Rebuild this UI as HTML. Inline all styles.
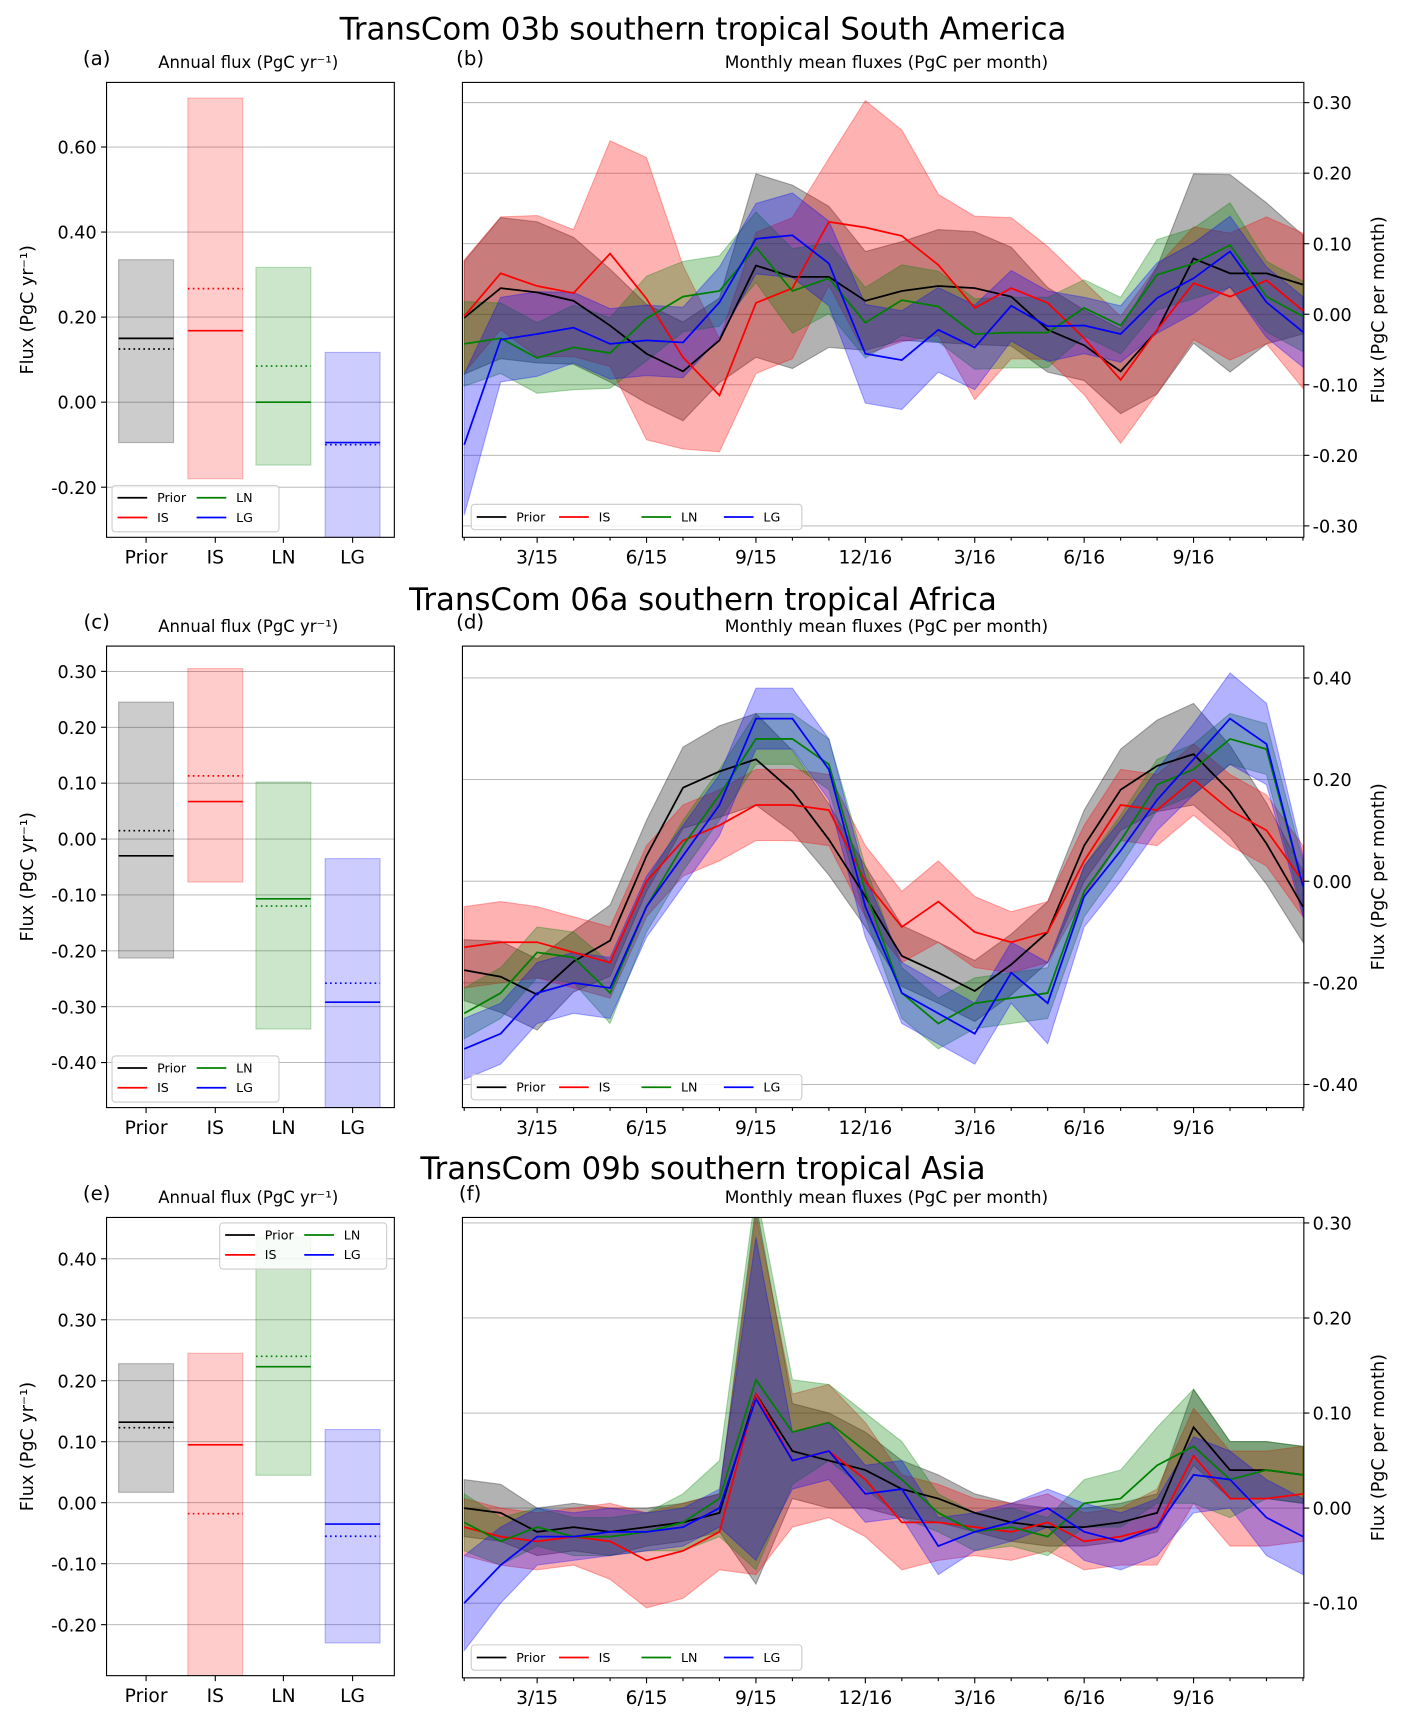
<!DOCTYPE html>
<html><head><meta charset="utf-8"><style>
html,body{margin:0;padding:0;background:#fff}
svg{display:block;font-family:"DejaVu Sans","Liberation Sans",sans-serif}
</style></head><body>
<svg id="fig" width="1406" height="1724" viewBox="0 0 1280 1569" preserveAspectRatio="none" xmlns="http://www.w3.org/2000/svg"></svg>
<script>
const months = ["1/15","2/15","3/15","4/15","5/15","6/15","7/15","8/15","9/15","10/15","11/15","12/15","1/16","2/16","3/16","4/16","5/16","6/16","7/16","8/16","9/16","10/16","11/16","12/16"];
const xTickLabels = ["3/15","6/15","9/15","12/16","3/16","6/16","9/16"];
const xTickIdx = [2,5,8,11,14,17,20];
const seriesNames = ["Prior","IS","LN","LG"];

// Panel b (South America)
const bPrior = [-0.005,0.037,0.031,0.019,-0.016,-0.056,-0.081,-0.037,0.069,0.053,0.053,0.019,0.033,0.040,0.037,0.025,-0.022,-0.044,-0.081,-0.023,0.079,0.058,0.058,0.042];
const bIS = [-0.003,0.058,0.04,0.03,0.086,0.022,-0.061,-0.115,0.016,0.037,0.131,0.123,0.111,0.070,0.009,0.037,0.016,-0.034,-0.093,-0.022,0.044,0.025,0.048,0.005];
const bLN = [-0.042,-0.034,-0.062,-0.047,-0.055,-0.006,0.025,0.033,0.095,0.033,0.051,-0.012,0.02,0.011,-0.028,-0.026,-0.026,0.009,-0.016,0.056,0.072,0.098,0.025,-0.003];
const bLG = [-0.185,-0.036,-0.028,-0.019,-0.042,-0.037,-0.04,0.017,0.107,0.112,0.072,-0.056,-0.065,-0.022,-0.047,0.012,-0.017,-0.016,-0.028,0.023,0.051,0.089,0.017,-0.025];
const bPriorSpread = [0.08,0.10,0.10,0.09,0.08,0.07,0.07,0.06,0.13,0.13,0.10,0.07,0.07,0.08,0.08,0.07,0.06,0.05,0.06,0.09,0.12,0.14,0.10,0.07];
const bISSpread = [0.08,0.08,0.10,0.09,0.16,0.20,0.13,0.08,0.10,0.10,0.09,0.18,0.15,0.10,0.13,0.10,0.08,0.08,0.09,0.09,0.08,0.09,0.09,0.11];
const bLNSpread = [0.06,0.05,0.05,0.06,0.05,0.06,0.05,0.05,0.05,0.06,0.05,0.05,0.05,0.05,0.05,0.05,0.05,0.04,0.04,0.05,0.05,0.06,0.05,0.05];
const bLGSpread = [0.10,0.06,0.06,0.05,0.05,0.05,0.05,0.05,0.05,0.06,0.06,0.07,0.07,0.06,0.06,0.05,0.05,0.04,0.04,0.05,0.05,0.05,0.05,0.05];

// Panel d (Africa)
const dPrior = [-0.175,-0.188,-0.223,-0.158,-0.117,0.05,0.184,0.216,0.24,0.177,0.082,-0.03,-0.147,-0.18,-0.216,-0.164,-0.10,0.07,0.18,0.227,0.25,0.177,0.074,-0.05];
const dIS = [-0.13,-0.12,-0.12,-0.14,-0.16,0.0,0.08,0.11,0.15,0.15,0.14,0.0,-0.09,-0.04,-0.1,-0.12,-0.1,0.04,0.15,0.14,0.2,0.14,0.1,0.0];
const dLN = [-0.26,-0.22,-0.14,-0.15,-0.22,-0.05,0.07,0.17,0.28,0.28,0.23,-0.02,-0.22,-0.28,-0.24,-0.23,-0.22,-0.02,0.08,0.19,0.22,0.28,0.26,-0.01];
const dLG = [-0.33,-0.30,-0.22,-0.20,-0.21,-0.05,0.05,0.15,0.32,0.32,0.22,-0.05,-0.22,-0.26,-0.30,-0.18,-0.24,-0.03,0.06,0.16,0.24,0.32,0.27,-0.01];
const dPriorSpread = [0.06,0.07,0.07,0.06,0.07,0.07,0.08,0.09,0.09,0.08,0.07,0.06,0.06,0.06,0.06,0.06,0.06,0.07,0.08,0.09,0.10,0.09,0.08,0.07];
const dISSpread = [0.08,0.08,0.07,0.07,0.07,0.07,0.07,0.07,0.07,0.07,0.07,0.07,0.07,0.08,0.07,0.06,0.06,0.07,0.07,0.07,0.07,0.07,0.07,0.07];
const dLNSpread = [0.05,0.05,0.05,0.05,0.06,0.05,0.05,0.05,0.05,0.05,0.05,0.05,0.05,0.05,0.05,0.05,0.05,0.05,0.05,0.05,0.05,0.05,0.05,0.05];
const dLGSpread = [0.06,0.06,0.06,0.06,0.06,0.06,0.06,0.06,0.06,0.06,0.06,0.06,0.06,0.06,0.06,0.06,0.08,0.06,0.06,0.06,0.07,0.09,0.08,0.06];

// Panel f (Asia)
const fPrior = [0.0,-0.005,-0.025,-0.02,-0.025,-0.02,-0.015,-0.005,0.12,0.06,0.05,0.04,0.02,0.01,-0.005,-0.015,-0.02,-0.02,-0.015,-0.005,0.085,0.04,0.04,0.035];
const fIS = [-0.02,-0.03,-0.035,-0.03,-0.035,-0.055,-0.045,-0.025,0.12,0.05,0.06,0.03,-0.015,-0.015,-0.02,-0.025,-0.015,-0.035,-0.03,-0.02,0.055,0.01,0.01,0.015];
const fLN = [-0.015,-0.035,-0.02,-0.03,-0.03,-0.025,-0.015,0.01,0.135,0.08,0.09,0.06,0.03,-0.005,-0.025,-0.02,-0.03,0.005,0.01,0.045,0.065,0.03,0.04,0.035];
const fLG = [-0.1,-0.06,-0.03,-0.03,-0.025,-0.025,-0.02,0.0,0.115,0.05,0.06,0.015,0.02,-0.04,-0.025,-0.015,0.0,-0.025,-0.035,-0.02,0.035,0.03,-0.01,-0.03];
const fPriorSpread = [0.03,0.03,0.025,0.025,0.025,0.02,0.02,0.02,0.2,0.05,0.05,0.04,0.03,0.025,0.02,0.02,0.02,0.02,0.02,0.02,0.04,0.03,0.03,0.03];
const fISSpread = [0.03,0.03,0.03,0.03,0.04,0.05,0.05,0.04,0.19,0.07,0.07,0.06,0.05,0.04,0.03,0.03,0.03,0.03,0.03,0.04,0.05,0.05,0.05,0.05];
const fLNSpread = [0.03,0.025,0.02,0.02,0.02,0.02,0.03,0.04,0.2,0.055,0.04,0.04,0.04,0.02,0.02,0.02,0.02,0.025,0.03,0.04,0.06,0.04,0.03,0.03];
const fLGSpread = [0.05,0.04,0.03,0.025,0.025,0.02,0.02,0.02,0.17,0.03,0.03,0.03,0.03,0.03,0.02,0.02,0.02,0.03,0.03,0.03,0.04,0.03,0.04,0.04];

// Annual panels: lower, upper, solid, dotted per series (Prior, IS, LN, LG)
const aLower = [-0.095,-0.18,-0.148,-0.5];
const aUpper = [0.335,0.715,0.317,0.117];
const aSolid = [0.15,0.168,0.0,-0.095];
const aDotted = [0.125,0.267,0.085,-0.10];
const cLower = [-0.213,-0.077,-0.34,-0.6];
const cUpper = [0.245,0.305,0.102,-0.035];
const cSolid = [-0.03,0.067,-0.107,-0.292];
const cDotted = [0.015,0.113,-0.12,-0.258];
const eLower = [0.017,-0.5,0.045,-0.23];
const eUpper = [0.228,0.245,0.435,0.12];
const eSolid = [0.132,0.095,0.223,-0.035];
const eDotted = [0.123,-0.018,0.24,-0.055];

const aTicks = [0.6,0.4,0.2,0.0,-0.2];
const cTicks = [0.3,0.2,0.1,0.0,-0.1,-0.2,-0.3,-0.4];
const eTicks = [0.4,0.3,0.2,0.1,0.0,-0.1,-0.2];
const bTicks = [0.3,0.2,0.1,0.0,-0.1,-0.2,-0.3];
const dTicks = [0.4,0.2,0.0,-0.2,-0.4];
const fTicks = [0.3,0.2,0.1,0.0,-0.1];

const colors = ["#000000","#ff0000","#008000","#0000ff"];
const svg = document.getElementById('fig');
const NS = "http://www.w3.org/2000/svg";
function mk(tag, attrs, parent){const e=document.createElementNS(NS,tag);for(const k in attrs)e.setAttribute(k,attrs[k]);(parent||svg).appendChild(e);return e;}
function txt(s, x, y, size, anchor, parent, extra){const t=mk('text',Object.assign({x:x,y:y,'font-size':size,'text-anchor':anchor||'start',fill:'#000'},extra||{}),parent);t.textContent=s;return t;}
function fmt(v){return (v<0?"-":"")+Math.abs(v).toFixed(2);}

function legend(g, x, y, w, h, twoRow){
  const lg=mk('g',{},g);
  
  
  mk('rect',{x:x,y:y,width:w,height:h,rx:3,fill:'#fff','fill-opacity':0.85,stroke:'#ccc'},lg);
  seriesNames.forEach((n,i)=>{
    const e=mk('g',{},lg);
    
    
    let ex,ey;
    if(twoRow){ex=x+5+Math.floor(i/2)*72;ey=y+11+(i%2)*18;}
    else{ex=x+5+i*75;ey=y+h/2;}
    mk('line',{x1:ex,y1:ey,x2:ex+27,y2:ey,stroke:colors[i],'stroke-width':1.6},e);
    txt(n,ex+36,ey+4,11.5,'start',e);
  });
}

function annual(name, top, bottom, ticks, lo, up, so, dt, label, legendTop){
  const g=mk('g',{});
  
  
  const L=97,R=359;
  const sc=AX[name];
  const y=v=>sc.y0-(v*sc.k);
  const clip='clip-'+name;
  const cp=mk('clipPath',{id:clip},g);mk('rect',{x:L,y:top,width:R-L,height:bottom-top},cp);
  ticks.forEach(v=>{
    const yy=y(v);
    mk('line',{x1:L,y1:yy,x2:R,y2:yy,stroke:'#b0b0b0','stroke-width':0.8},g);
    mk('line',{x1:L-5,y1:yy,x2:L,y2:yy,stroke:'#000'},g);
    const tl=txt(fmt(v),L-9,yy+6,16,'end',g);
    
    
  });
  const cx=[133,196,258,321];
  const bg=mk('g',{'clip-path':'url(#'+clip+')'},g);
  seriesNames.forEach((n,i)=>{
    const r=mk('rect',{x:cx[i]-25,y:y(up[i]),width:50,height:y(lo[i])-y(up[i]),fill:colors[i],'fill-opacity':0.2,stroke:colors[i],'stroke-opacity':0.25},bg);
    
    
    mk('line',{x1:cx[i]-25,y1:y(so[i]),x2:cx[i]+25,y2:y(so[i]),stroke:colors[i],'stroke-width':1.5},bg);
    mk('line',{x1:cx[i]-25,y1:y(dt[i]),x2:cx[i]+25,y2:y(dt[i]),stroke:colors[i],'stroke-width':1.5,'stroke-dasharray':'1.5,3'},bg);
    mk('line',{x1:cx[i],y1:bottom,x2:cx[i],y2:bottom+5,stroke:'#000'},g);
    const xl=txt(n,cx[i],bottom+24,17,'middle',g);
    
    
  });
  mk('rect',{x:L,y:top,width:R-L,height:bottom-top,fill:'none',stroke:'#000','stroke-width':1},g);
  txt(label,88,top-16,18,'middle',g);
  const st=txt('Annual flux (PgC yr⁻¹)',226,top-13,15,'middle',g);
  
  const yl=txt('Flux (PgC yr⁻¹)',0,0,16,'middle',g,{transform:'translate(30,'+((top+bottom)/2)+') rotate(-90)'});
  
  if(legendTop) legend(g,200,top+5,152,42,true); else legend(g,102,bottom-47,152,42,true);
}

function monthly(name, top, bottom, ticks, means, spreads, label){
  const g=mk('g',{});
  
  
  const L=421,R=1187;
  const sc=AX[name];
  const y=v=>sc.y0-(v*sc.k);
  const x=i=>422.6+i*33.2;
  const clip='clip-'+name;
  const cp=mk('clipPath',{id:clip},g);mk('rect',{x:L,y:top,width:R-L,height:bottom-top},cp);
  ticks.forEach(v=>{
    const yy=y(v);
    mk('line',{x1:L,y1:yy,x2:R,y2:yy,stroke:'#b0b0b0','stroke-width':0.8},g);
    mk('line',{x1:R,y1:yy,x2:R+5,y2:yy,stroke:'#000'},g);
    const tl=txt(fmt(v),R+8,yy+6,16,'start',g);
    
  });
  xTickIdx.forEach((mi,j)=>{
    mk('line',{x1:x(mi),y1:bottom,x2:x(mi),y2:bottom+5,stroke:'#000'},g);
    const xl=txt(xTickLabels[j],x(mi),bottom+24,17,'middle',g);
    
  });
  months.forEach((m,i)=>{ if(xTickIdx.indexOf(i)<0) mk('line',{x1:x(i),y1:bottom,x2:x(i),y2:bottom+3,stroke:'#000'},g); });
  const pg=mk('g',{'clip-path':'url(#'+clip+')'},g);
  means.forEach((s,k)=>{
    const sp=spreads[k];
    let d='M'+s.map((v,i)=>x(i)+','+y(v+sp[i])).join('L');
    for(let i=s.length-1;i>=0;i--) d+='L'+x(i)+','+y(s[i]-sp[i]);
    d+='Z';
    const b=mk('path',{d:d,fill:colors[k],'fill-opacity':0.3,stroke:colors[k],'stroke-opacity':0.3},pg);
    
    
  });
  means.forEach((s,k)=>{
    const l=mk('path',{d:'M'+s.map((v,i)=>x(i)+','+y(v)).join('L'),fill:'none',stroke:colors[k],'stroke-width':1.6},pg);
    
    
  });
  mk('rect',{x:L,y:top,width:R-L,height:bottom-top,fill:'none',stroke:'#000','stroke-width':1},g);
  txt(label,428,top-16,18,'middle',g);
  const st=txt('Monthly mean fluxes (PgC per month)',807,top-13,15.5,'middle',g);
  
  const yl=txt('Flux (PgC per month)',0,0,16,'middle',g,{transform:'translate(1260,'+((top+bottom)/2)+') rotate(-90)'});
  
  legend(g,429,bottom-30,301,23,false);
}

// axis scales: zero pixel and pixels per unit
const AX = {
  'panel-a':{y0:366,k:387},
  'panel-b':{y0:286,k:642},
  'panel-c':{y0:763.6,k:508.6},
  'panel-d':{y0:802,k:462.5},
  'panel-e':{y0:1367.6,k:555},
  'panel-f':{y0:1372.5,k:865}
};

function title(s,y){const t=txt(s,640,y,28,'middle');}
title('TransCom 03b southern tropical South America',36);
title('TransCom 06a southern tropical Africa',555);
title('TransCom 09b southern tropical Asia',1073);

annual('panel-a',75,489,aTicks,aLower,aUpper,aSolid,aDotted,'(a)',false);
monthly('panel-b',75,489,bTicks,[bPrior,bIS,bLN,bLG],[bPriorSpread,bISSpread,bLNSpread,bLGSpread],'(b)');
annual('panel-c',588,1008,cTicks,cLower,cUpper,cSolid,cDotted,'(c)',false);
monthly('panel-d',588,1008,dTicks,[dPrior,dIS,dLN,dLG],[dPriorSpread,dISSpread,dLNSpread,dLGSpread],'(d)');
annual('panel-e',1108,1525,eTicks,eLower,eUpper,eSolid,eDotted,'(e)',true);
monthly('panel-f',1108,1527,fTicks,[fPrior,fIS,fLN,fLG],[fPriorSpread,fISSpread,fLNSpread,fLGSpread],'(f)');
</script>
</body></html>
